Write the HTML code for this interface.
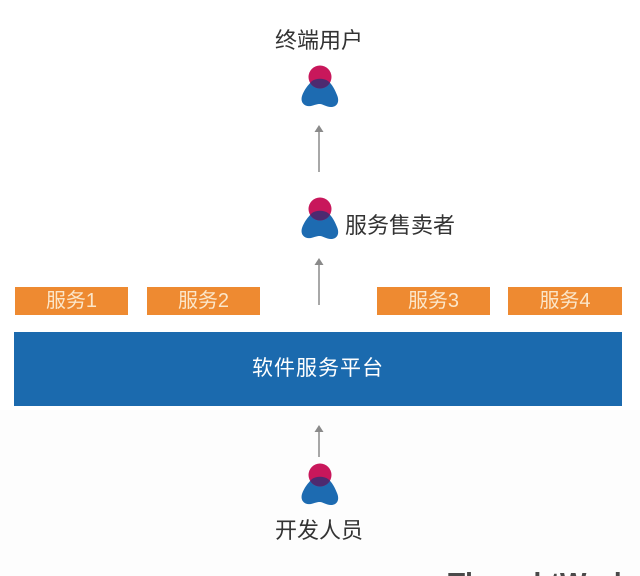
<!DOCTYPE html>
<html><head><meta charset="utf-8"><style>
html,body{margin:0;padding:0;width:640px;height:576px;overflow:hidden;}
body{position:relative;background:#fff;font-family:"Liberation Sans","Noto Sans CJK SC",sans-serif;}
.t{position:absolute;color:#333;font-size:22px;line-height:22px;white-space:nowrap;}
.svc{position:absolute;top:287px;height:28px;background:#ee8a31;color:#fbe6c9;font-size:20px;line-height:28px;text-align:center;}
.bar{position:absolute;left:14px;top:332px;width:608px;height:74px;background:#1b6aae;color:#fff;font-size:21px;line-height:74px;text-align:center;letter-spacing:1px;}
svg{position:absolute;left:0;top:0;}
.wm{position:absolute;left:448px;top:562px;font-size:28px;font-weight:bold;color:#4a4a4a;white-space:nowrap;line-height:34px;}
</style></head><body>
<div style="position:absolute;left:0;top:410px;width:640px;height:166px;background:#fdfdfd;"></div>
<svg width="640" height="576" viewBox="0 0 640 576">
<defs>
<path id="body" d="M-8,4 C-12,8 -16,13 -18,19 C-20,26 -15,30 -9,29 C-5,28 -3,27 0,27 C3,27 6,30 11,30 C17,30 20,25 17,18 C15,13 12,7 8,4 C4,1 -4,1 -8,4 Z"/>
<clipPath id="bc"><use href="#body"/></clipPath>
<g id="icon">
<use href="#body" fill="#1d6bb1"/>
<circle cx="0" cy="0" r="11.5" fill="#c8175b"/>
<circle cx="0" cy="0" r="11.5" fill="#4d2a70" clip-path="url(#bc)"/>
</g>
</defs>
<use href="#icon" x="320" y="77"/>
<use href="#icon" x="320" y="209"/>
<use href="#icon" x="320" y="475"/>
<g stroke="#8a8a8a" stroke-width="1.5" fill="none">
<line x1="319" y1="131" x2="319" y2="172"/>
<line x1="319" y1="264" x2="319" y2="305"/>
<line x1="319" y1="431" x2="319" y2="457"/>
</g>
<g fill="#8a8a8a">
<polygon points="319,125 314.5,132 323.5,132"/>
<polygon points="319,258 314.5,265 323.5,265"/>
<polygon points="319,425 314.5,432 323.5,432"/>
</g>
</svg>
<div class="t" style="left:275px;top:30px;">终端用户</div>
<div class="t" style="left:345px;top:215px;">服务售卖者</div>
<div class="t" style="left:275px;top:520px;">开发人员</div>
<div class="svc" style="left:15px;width:113px;">服务1</div>
<div class="svc" style="left:147px;width:113px;">服务2</div>
<div class="svc" style="left:377px;width:113px;">服务3</div>
<div class="svc" style="left:508px;width:114px;">服务4</div>
<div class="bar">软件服务平台</div>
<div class="wm" style="top:566px;">ThoughtWorks</div>
</body></html>
